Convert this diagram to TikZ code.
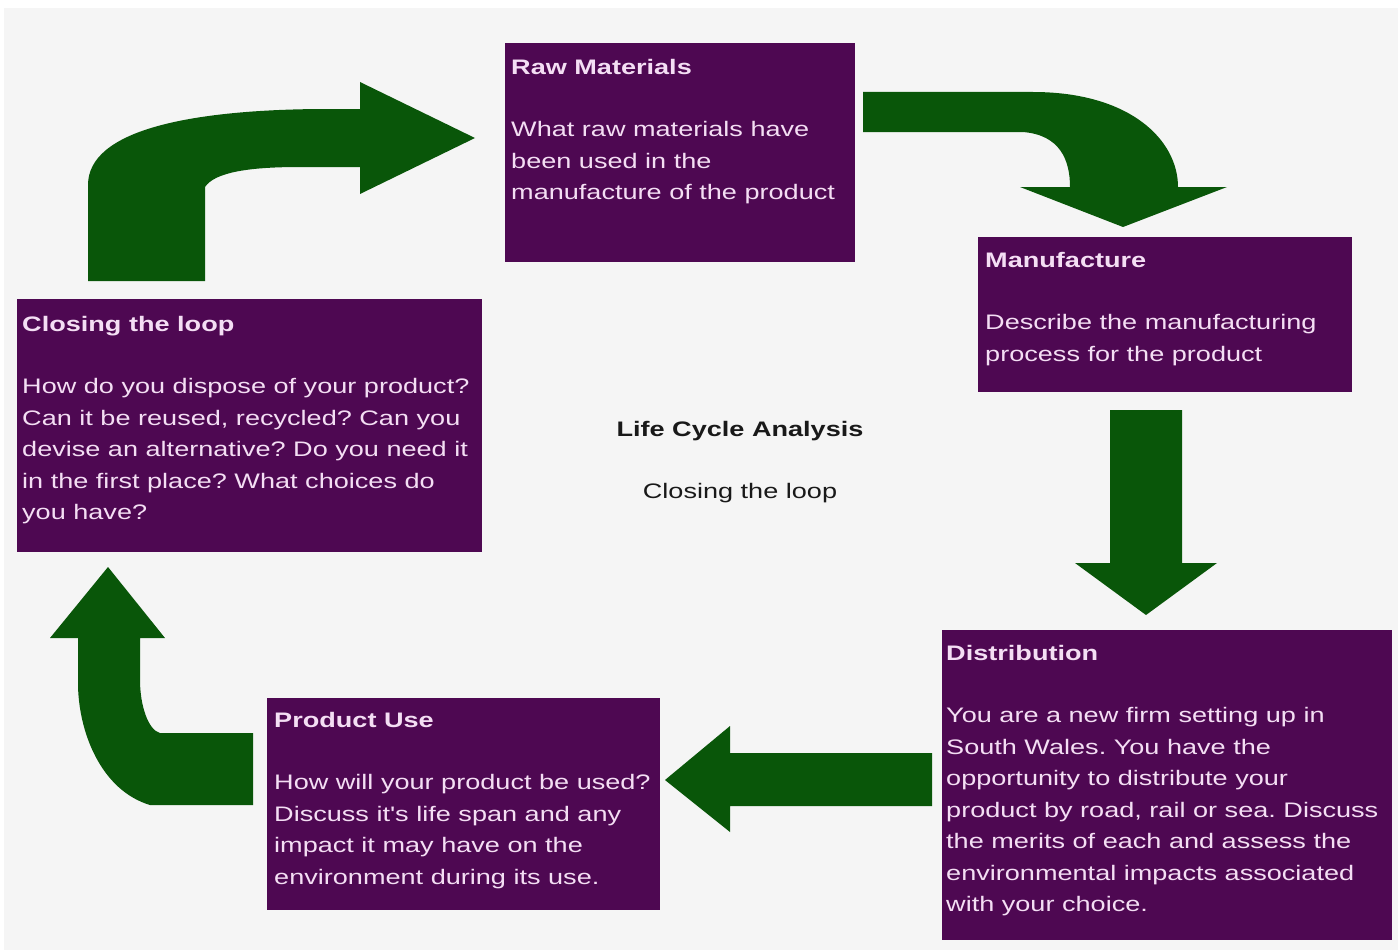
\documentclass[tikz,border=0pt]{standalone}
\usepackage{fontspec}
\setmainfont{Liberation Sans}
\newfontfamily\widefont[FakeStretch=1.29]{Liberation Sans}
\definecolor{boxpurple}{RGB}{78,8,82}
\definecolor{arrowgreen}{RGB}{9,86,9}
\definecolor{boxtext}{RGB}{244,222,244}
\definecolor{bggray}{RGB}{245,245,245}
\tikzset{
  box/.style={fill=boxpurple, draw=none, inner sep=0pt, anchor=north west},
  boxtxt/.style={text=boxtext, align=left, inner sep=0pt, anchor=north west,
    font={\widefont\fontsize{21}{31.5}\selectfont\frenchspacing}},
  centertxt/.style={text=black!90, inner sep=0pt, anchor=base,
    font={\widefont\fontsize{21}{31.5}\selectfont}},
  bigarrow/.style={fill=arrowgreen, draw=none}
}
\newcommand{\ttl}[1]{\rule{0pt}{16pt}\textbf{#1}\\[31pt]}
\begin{document}
\frenchspacing
\begin{tikzpicture}[x=1pt,y=-1pt]
\useasboundingbox (0,0) rectangle (1398,950);
\fill[white] (0,0) rectangle (1398,950);
\fill[bggray] (4,8) rectangle (1398,950);

% boxes
\node[box, minimum width=350pt, minimum height=219pt] (raw) at (505,43) {};
\node[box, minimum width=374pt, minimum height=155pt] (man) at (978,237) {};
\node[box, minimum width=450pt, minimum height=310pt] (dist) at (942,630) {};
\node[box, minimum width=393pt, minimum height=212pt] (use) at (267,698) {};
\node[box, minimum width=465pt, minimum height=253pt] (loop) at (17,299) {};

% texts
\node[boxtxt] (rawt) at (511,58) {\ttl{Raw Materials}What raw materials have\\been used in the\\manufacture of the product};
\node[boxtxt] (mant) at (985,251) {\ttl{Manufacture}Describe the manufacturing\\process for the product};
\node[boxtxt] (distt) at (946,644) {\ttl{Distribution}You are a new firm setting up in\\South Wales. You have the\\opportunity to distribute your\\product by road, rail or sea. Discuss\\the merits of each and assess the\\environmental impacts associated\\with your choice.};
\node[boxtxt] (uset) at (274,711) {\ttl{Product Use}How will your product be used?\\Discuss it's life span and any\\impact it may have on the\\environment during its use.};
\node[boxtxt] (loopt) at (22,315) {\ttl{Closing the loop}How do you dispose of your product?\\Can it be reused, recycled? Can you\\devise an alternative? Do you need it\\in the first place? What choices do\\you have?};

\node[centertxt] (title) at (740,436) {\textbf{Life Cycle Analysis}};
\node[centertxt] (sub) at (740,498) {Closing the loop};

% arrow: closing the loop -> raw materials
\fill[bigarrow] (88,281) -- (88,185) .. controls (88,130) and (190,110) .. (320,109)
  -- (360,109) -- (360,82) -- (475,138) -- (360,194) -- (360,167) -- (300,167)
  .. controls (250,167) and (215,172) .. (205,187) -- (205,281) -- cycle;
% arrow: raw materials -> manufacture
\fill[bigarrow] (863,92) -- (1033,92) .. controls (1130,92) and (1178,140) .. (1178,187)
  -- (1227,187) -- (1123,227) -- (1020,187) -- (1070,187)
  .. controls (1070,160) and (1060,135) .. (1023,132) -- (863,132) -- cycle;
% arrow: manufacture -> distribution
\fill[bigarrow] (1110,410) -- (1182,410) -- (1182,563) -- (1217,563) -- (1146,615)
  -- (1075,563) -- (1110,563) -- cycle;
% arrow: distribution -> product use
\fill[bigarrow] (932,753) -- (932,806) -- (730,806) -- (730,832) -- (665,780)
  -- (730,726) -- (730,753) -- cycle;
% arrow: product use -> closing the loop
\fill[bigarrow] (253,733) -- (253,805) -- (150,805)
  .. controls (100,790) and (78,730) .. (78,683) -- (78,638) -- (50,638) -- (108,567)
  -- (165,638) -- (140,638) -- (140,680) .. controls (140,705) and (148,730) .. (160,733)
  -- cycle;
\end{tikzpicture}
\end{document}
